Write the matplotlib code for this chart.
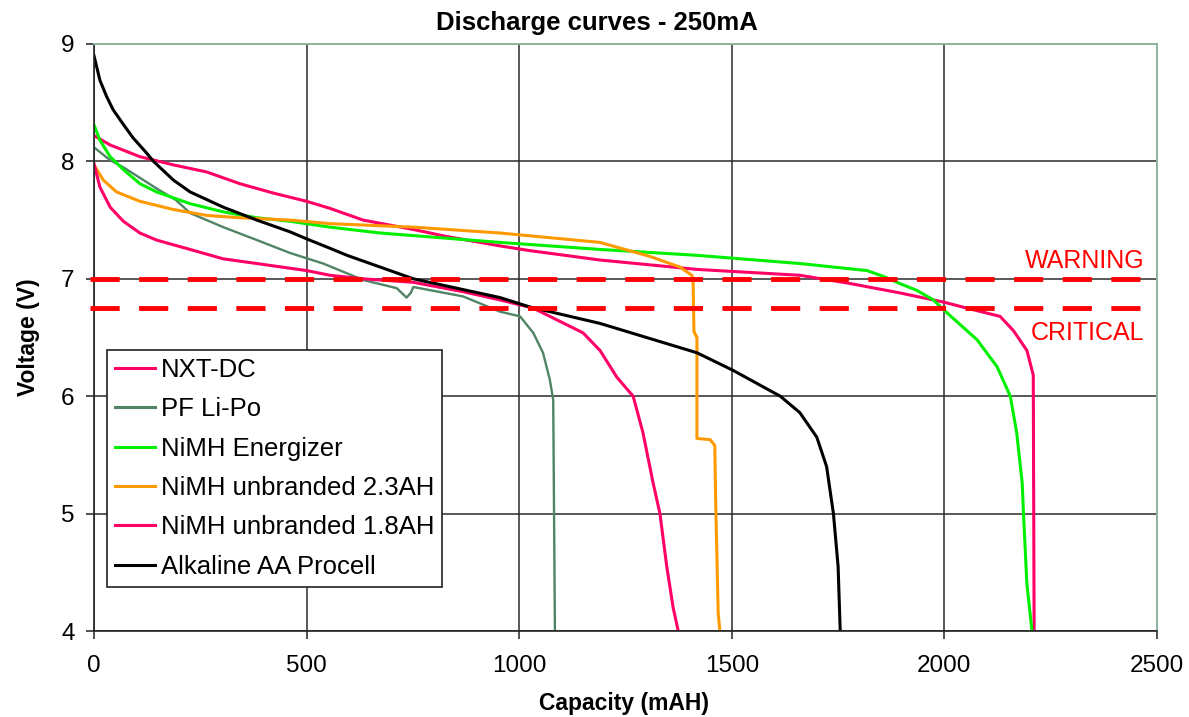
import matplotlib.pyplot as plt
import numpy as np

plt.rcParams['font.family'] = ['Liberation Sans', 'DejaVu Sans']

# data (capacity mAH, voltage V)
nxt_dc_x = [0, 38, 108, 187, 265, 343, 422, 500, 555, 633, 751, 830, 955, 1025, 1190, 1418, 1660,
            1778, 1895, 2000, 2053, 2131, 2162, 2194, 2209, 2211]
nxt_dc_v = [8.22, 8.14, 8.04, 7.97, 7.91, 7.81, 7.73, 7.66, 7.60, 7.50, 7.42, 7.36, 7.28, 7.24, 7.16,
            7.08, 7.03, 6.96, 6.88, 6.80, 6.75, 6.68, 6.56, 6.39, 6.18, 4.0]

lipo_x = [0, 38, 69, 108, 147, 193, 226, 304, 383, 461, 539, 633, 712, 735, 745, 751, 868, 955,
          1002, 1033, 1056, 1072, 1080, 1084]
lipo_v = [8.12, 8.01, 7.95, 7.86, 7.77, 7.67, 7.56, 7.44, 7.33, 7.22, 7.13, 6.99, 6.92, 6.84, 6.88,
          6.93, 6.85, 6.72, 6.68, 6.54, 6.37, 6.14, 5.97, 4.0]

energizer_x = [0, 14, 38, 69, 108, 147, 226, 304, 383, 461, 555, 673, 955, 1190, 1418, 1660, 1818,
               1857, 1895, 1936, 1974, 2000, 2077, 2124, 2155, 2170, 2183, 2186, 2194, 2206]
energizer_v = [8.31, 8.18, 8.04, 7.93, 7.81, 7.74, 7.64, 7.57, 7.52, 7.49, 7.44, 7.39, 7.31, 7.25,
               7.20, 7.13, 7.07, 7.02, 6.96, 6.90, 6.82, 6.73, 6.48, 6.25, 6.00, 5.69, 5.26, 5.00,
               4.40, 4.0]

nimh23_x = [0, 22, 53, 108, 187, 265, 343, 461, 555, 751, 955, 1190, 1308, 1378, 1406, 1409, 1411,
            1418, 1418, 1449, 1460, 1462, 1468, 1472]
nimh23_v = [7.97, 7.84, 7.74, 7.66, 7.59, 7.54, 7.52, 7.50, 7.47, 7.44, 7.39, 7.31, 7.19, 7.10, 7.03,
            6.99, 6.55, 6.50, 5.64, 5.63, 5.58, 5.12, 4.15, 4.0]

nimh18_x = [0, 14, 38, 69, 108, 147, 226, 304, 383, 500, 555, 633, 751, 868, 955, 1033, 1150, 1190,
            1230, 1268, 1291, 1315, 1331, 1347, 1362, 1374]
nimh18_v = [7.98, 7.78, 7.61, 7.49, 7.39, 7.33, 7.25, 7.17, 7.13, 7.07, 7.03, 7.00, 6.97, 6.89, 6.82,
            6.75, 6.54, 6.39, 6.16, 6.00, 5.69, 5.26, 5.00, 4.55, 4.20, 4.0]

alkaline_x = [0, 14, 30, 45, 68, 92, 124, 140, 187, 226, 304, 383, 461, 500, 555, 595, 751, 955,
              1025, 1190, 1418, 1503, 1614, 1660, 1700, 1723, 1739, 1750, 1755]
alkaline_v = [8.90, 8.69, 8.55, 8.44, 8.32, 8.20, 8.07, 8.00, 7.84, 7.74, 7.61, 7.50, 7.40, 7.34,
              7.26, 7.20, 7.00, 6.84, 6.76, 6.62, 6.37, 6.22, 6.00, 5.86, 5.65, 5.40, 5.00, 4.55, 4.0]

series_names = ['NXT-DC', 'PF Li-Po', 'NiMH Energizer', 'NiMH unbranded 2.3AH',
                'NiMH unbranded 1.8AH', 'Alkaline AA Procell']
series_colors = ['#FF0066', '#4F8464', '#00F000', '#FF9900', '#FF0066', '#000000']

threshold_levels = [7.0, 6.75]
threshold_labels = ['WARNING', 'CRITICAL']

x_ticks = [0, 500, 1000, 1500, 2000, 2500]
y_ticks = [4, 5, 6, 7, 8, 9]


def initialize():
    fig = plt.figure(figsize=(11.89, 7.17), dpi=100)
    ax = fig.add_axes([94 / 1189, 1 - 631 / 717, 1063 / 1189, 587 / 717])
    ax.set_xlim(0, 2500)
    ax.set_ylim(4, 9)
    ax.set_xticks(x_ticks)
    ax.set_yticks(y_ticks)
    ax.grid(True, color='#2b2b2b', linewidth=1.1)
    ax.tick_params(direction='out', length=6, width=1.1, labelsize=17.5, color='#222222')
    ax.tick_params(axis='x', pad=11)
    ax.tick_params(axis='y', pad=8)
    for side in ['left', 'bottom']:
        ax.spines[side].set_color('#222222')
        ax.spines[side].set_linewidth(1.2)
    for side in ['top', 'right']:
        ax.spines[side].set_color('#8DB59E')
        ax.spines[side].set_linewidth(1.4)

    fig.text(0.502, 0.968, 'Discharge curves - 250mA', fontsize=18.5, fontweight='bold',
             ha='center', va='center')
    fig.text(624 / 1189, 0.0098, 'Capacity (mAH)', fontsize=16.5, fontweight='bold',
             ha='center', va='baseline')
    fig.text(28 / 1189, 1 - 337 / 717, 'Voltage (V)', fontsize=16.5, fontweight='bold',
             rotation=90, ha='center', va='center')
    return fig, ax


def draw_curves(ax):
    xs = [nxt_dc_x, lipo_x, energizer_x, nimh23_x, nimh18_x, alkaline_x]
    vs = [nxt_dc_v, lipo_v, energizer_v, nimh23_v, nimh18_v, alkaline_v]
    widths = [2.2, 1.7, 2.2, 2.2, 2.2, 2.2]
    for x, v, name, col, lw in zip(xs, vs, series_names, series_colors, widths):
        ax.plot(x, v, color=col, linewidth=lw, label=name, solid_joinstyle='round')


def draw_thresholds(ax):
    offsets = [(-9, 13), (-9, -18)]
    for level, label, off in zip(threshold_levels, threshold_labels, offsets):
        ax.axhline(level, xmin=-0.004, xmax=1.0, color='#FF0000', linewidth=3.5,
                   dashes=(6, 4), clip_on=False, zorder=5)
        ax.annotate(label, xy=(2500, level), xytext=off, textcoords='offset points',
                    ha='right', va='center', color='#FF0000', fontsize=18)


fig, ax = initialize()
draw_curves(ax)
draw_thresholds(ax)
leg = ax.legend(loc='upper left', bbox_to_anchor=(0.0122, 0.4787), borderaxespad=0,
                fontsize=18.5, handlelength=1.55, handletextpad=0.25, labelspacing=0.6,
                borderpad=0.3, fancybox=False, framealpha=1, edgecolor='#222222')
leg.get_frame().set_linewidth(1.2)
for line in leg.get_lines():
    line.set_linewidth(2.2)

fig.savefig('out.png', dpi=100)
